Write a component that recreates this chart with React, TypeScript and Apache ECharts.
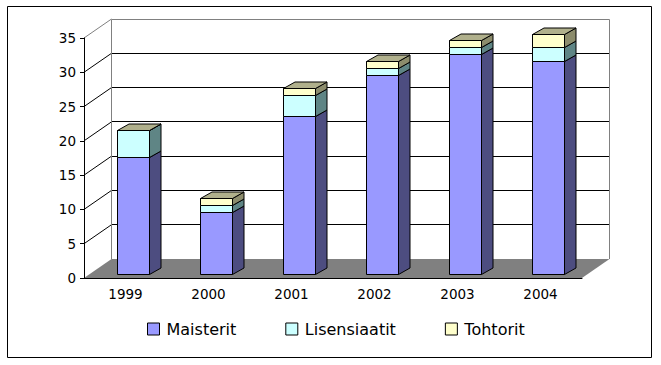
import React, { useEffect, useRef } from "react";
import * as echarts from "echarts";

const categories = ["1999", "2000", "2001", "2002", "2003", "2004"];
const maisterit = [17, 9, 23, 29, 32, 31];
const lisensiaatit = [4, 1, 3, 1, 1, 2];
const tohtorit = [0, 1, 1, 1, 1, 2];
const seriesNames = ["Maisterit", "Lisensiaatit", "Tohtorit"];
const yMin = 0;
const yMax = 35;
const yStep = 5;

// styling constants
const FRONT = ["#9999FF", "#CCFFFF", "#FFFFCC"];
const SIDE = ["#4D4D80", "#5F8585", "#8C8C6C"];
const TOP = "#B0B08C";
const WDX = 27.5, WDY = -19; // wall depth
const BOX = 7.7, BOY = -4; // bar front-plane offset
const BDX = 11.5, BDY = -6.5; // bar depth
const BAR_RATIO = 0.39;
const FONT = "DejaVu Sans";

const r5 = (v: number) => Math.round(v - 0.5) + 0.5;

function stackData(vals: number[], bases: number[]) {
  return vals.map((v, i) => [i, bases[i], bases[i] + v]);
}

export default function App() {
  const ref = useRef<HTMLDivElement>(null);
  useEffect(() => {
    if (!ref.current) return;
    const chart = echarts.init(ref.current, null, { renderer: "svg" });
    const base0 = categories.map(() => 0);
    const base1 = maisterit.slice();
    const base2 = maisterit.map((v, i) => v + lisensiaatit[i]);
    const segs = [
      stackData(maisterit, base0),
      stackData(lisensiaatit, base1),
      stackData(tohtorit, base2),
    ];
    const gridTicks: number[] = [];
    for (let v = yMin + yStep; v < yMax; v += yStep) gridTicks.push(v);

    const wallRender = (params: any, api: any) => {
      const bw = api.size([1, 0])[0];
      const c0 = api.coord([0, 0]);
      const xl = c0[0] - bw / 2;
      const xr = xl + bw * categories.length;
      const yAt = (v: number) => api.coord([0, v])[1];
      const y0 = yAt(yMin);
      const yT = yAt(yMax);
      const children: any[] = [];
      children.push({
        type: "polygon",
        shape: { points: [[xl, y0], [xr, y0], [xr + WDX, y0 + WDY], [xl + WDX, y0 + WDY]] },
        style: { fill: "#808080" },
      });
      gridTicks.forEach((v) => {
        const y = yAt(v);
        children.push({
          type: "line",
          shape: { x1: r5(xl + WDX), y1: r5(y + WDY), x2: r5(xr + WDX), y2: r5(y + WDY) },
          style: { stroke: "#000", lineWidth: 1 },
        });
        children.push({
          type: "line",
          shape: { x1: xl, y1: y, x2: xl + WDX, y2: y + WDY },
          style: { stroke: "#000", lineWidth: 1 },
        });
      });
      const gray = { stroke: "#808080", lineWidth: 1 };
      children.push({ type: "line", shape: { x1: xl, y1: yT, x2: xl + WDX, y2: yT + WDY }, style: gray });
      children.push({ type: "line", shape: { x1: r5(xl + WDX), y1: r5(yT + WDY), x2: r5(xr + WDX), y2: r5(yT + WDY) }, style: gray });
      children.push({ type: "line", shape: { x1: r5(xl + WDX), y1: r5(yT + WDY), x2: r5(xl + WDX), y2: y0 + WDY }, style: gray });
      children.push({ type: "line", shape: { x1: r5(xr + WDX), y1: r5(yT + WDY), x2: r5(xr + WDX), y2: y0 + WDY }, style: gray });
      return { type: "group", children };
    };

    const barRender = (k: number) => (params: any, api: any) => {
      const c = api.value(0), b = api.value(1), t = api.value(2);
      const pb = api.coord([c, b]);
      const pt = api.coord([c, t]);
      const bw = api.size([1, 0])[0];
      const w = Math.round(bw * BAR_RATIO);
      const x0 = r5(pb[0] + BOX - w / 2);
      const x1 = x0 + w;
      const yb = r5(pb[1] + BOY);
      const yt = r5(pt[1] + BOY);
      const st = { stroke: "#000", lineWidth: 1 };
      const children: any[] = [
        { type: "rect", shape: { x: x0, y: yt, width: w, height: yb - yt }, style: { fill: FRONT[k], ...st } },
        {
          type: "polygon",
          shape: { points: [[x1, yb], [x1 + BDX, yb + BDY], [x1 + BDX, yt + BDY], [x1, yt]] },
          style: { fill: SIDE[k], ...st },
        },
      ];
      if (k === 2) {
        children.push({
          type: "polygon",
          shape: { points: [[x0, yt], [x1, yt], [x1 + BDX, yt + BDY], [x0 + BDX, yt + BDY]] },
          style: { fill: TOP, ...st },
        });
      }
      return { type: "group", children };
    };

    const option: any = {
      animation: false,
      backgroundColor: "#fff",
      grid: { left: 84, right: 79, top: 38, bottom: 87 },
      xAxis: {
        type: "category",
        data: categories,
        z: 10,
        axisLine: { lineStyle: { color: "#000", width: 1 } },
        axisTick: { length: 4, lineStyle: { color: "#000" } },
        axisLabel: { color: "#000", fontFamily: FONT, fontSize: 13.5, margin: 9 },
      },
      yAxis: {
        type: "value",
        min: yMin,
        max: yMax,
        interval: yStep,
        z: 10,
        axisLine: { show: true, lineStyle: { color: "#000", width: 1 } },
        axisTick: { show: true, length: 4, lineStyle: { color: "#000" } },
        splitLine: { show: false },
        axisLabel: { color: "#000", fontFamily: FONT, fontSize: 13.5, margin: 8 },
      },
      legend: {
        data: seriesNames.map((n, k) => ({ name: n, icon: "rect", itemStyle: { color: FRONT[k], borderColor: "#000", borderWidth: 1 } })),
        left: 147,
        top: 321,
        padding: 0,
        itemWidth: 12,
        itemHeight: 12,
        itemGap: 49,
        textStyle: { color: "#000", fontFamily: FONT, fontSize: 16, padding: [0, 0, 0, 2] },
      },
      graphic: [
        {
          type: "rect",
          shape: { x: 7.5, y: 6.5, width: 644, height: 351 },
          style: { fill: "none", stroke: "#000", lineWidth: 1 },
          silent: true,
        },
      ],
      series: [
        {
          type: "custom",
          name: "walls",
          silent: true,
          clip: false,
          z: 1,
          renderItem: wallRender,
          data: [[0, 0]],
        },
        ...seriesNames.map((n, k) => ({
          type: "custom",
          name: n,
          clip: false,
          z: 3,
          itemStyle: { color: FRONT[k] },
          renderItem: barRender(k),
          data: segs[k],
        })),
      ],
    };
    chart.setOption(option);
    return () => chart.dispose();
  }, []);
  return (
    <div
      ref={ref}
      style={{ position: "absolute", left: 0, top: 0, width: 661, height: 365 }}
    />
  );
}
